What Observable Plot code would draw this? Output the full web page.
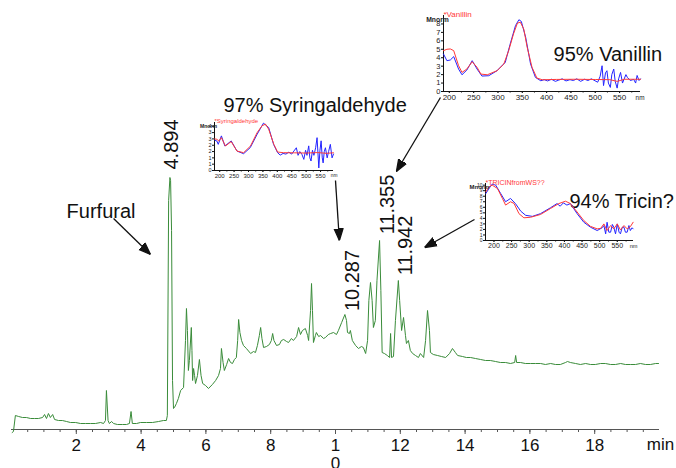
<!DOCTYPE html>
<html><head><meta charset="utf-8">
<script src="https://cdn.jsdelivr.net/npm/d3@7"></script>
<script src="https://cdn.jsdelivr.net/npm/@observablehq/plot@0.6"></script>
<style>
body{margin:0;background:#fff;}
#chart{position:relative;width:676px;height:468px;overflow:hidden;font-family:"Liberation Sans",Arial,sans-serif;}
#chart svg{position:absolute;overflow:visible;}
</style></head><body><div id="chart"></div>
<script>
// ---- main chromatogram (time in min, signal in arbitrary units) ----
const timeMin = [0.02,0.06,0.12,0.22,0.34,0.46,0.59,0.71,0.83,0.96,1.02,1.08,1.14,1.20,1.27,1.33,1.45,1.57,1.70,1.82,1.98,2.13,2.28,2.44,2.59,2.75,2.84,2.90,2.93,2.98,3.02,3.09,3.15,3.27,3.43,3.55,3.64,3.69,3.73,3.86,3.98,4.17,4.35,4.54,4.69,4.78,4.81,4.85,4.89,4.91,4.94,4.97,5.00,5.03,5.09,5.15,5.22,5.31,5.37,5.40,5.43,5.46,5.49,5.55,5.57,5.59,5.62,5.65,5.68,5.74,5.80,5.85,5.90,5.99,6.08,6.20,6.30,6.39,6.45,6.48,6.53,6.57,6.64,6.70,6.76,6.82,6.88,6.94,6.98,7.01,7.05,7.10,7.16,7.25,7.38,7.47,7.53,7.59,7.65,7.69,7.73,7.78,7.87,7.96,8.02,8.06,8.10,8.18,8.27,8.33,8.40,8.49,8.55,8.64,8.70,8.80,8.86,8.92,8.98,9.07,9.14,9.17,9.23,9.26,9.29,9.32,9.38,9.41,9.48,9.54,9.63,9.69,9.78,9.85,9.94,10.03,10.09,10.19,10.29,10.34,10.37,10.43,10.46,10.52,10.62,10.71,10.80,10.86,10.93,10.99,11.03,11.08,11.13,11.17,11.23,11.28,11.36,11.40,11.44,11.51,11.60,11.67,11.70,11.73,11.79,11.85,11.94,11.98,12.04,12.10,12.16,12.19,12.25,12.31,12.38,12.47,12.56,12.62,12.72,12.78,12.84,12.90,12.93,13.02,13.15,13.27,13.40,13.52,13.61,13.70,13.77,13.92,14.04,14.17,14.32,14.48,14.63,14.78,14.94,15.09,15.25,15.40,15.53,15.56,15.59,15.71,15.86,16.02,16.17,16.33,16.48,16.64,16.79,16.94,17.10,17.16,17.25,17.41,17.56,17.72,17.87,18.02,18.18,18.33,18.49,18.64,18.80,18.95,19.10,19.26,19.41,19.57,19.72,19.88,19.97];
const signal = [-3,-2,14,13,12,12,11,11,11,12,15,11,16,12,15,10,9,9,8,7,7,6,6,6,6,7,6,9,39,9,6,8,6,5,5,5,6,18,6,6,7,7,7,8,9,9,14,229,252,249,199,49,21,22,26,31,39,42,89,121,99,59,69,102,79,49,61,54,46,54,70,54,46,44,41,45,49,54,61,81,67,59,65,71,67,66,70,72,89,110,97,89,84,81,76,78,77,84,94,102,91,82,83,85,89,96,89,84,85,89,90,88,87,91,89,93,102,95,99,101,94,89,119,146,119,87,94,97,93,94,91,92,95,96,97,95,99,107,115,109,97,96,99,89,84,81,83,82,76,89,129,147,129,102,109,149,189,139,77,76,74,72,96,72,73,109,149,129,99,112,94,86,89,79,76,74,72,76,72,89,119,99,77,75,74,73,72,76,81,77,74,73,72,72,71,70,69,69,68,67,67,66,67,74,67,67,66,66,66,66,65,66,65,65,67,68,67,66,65,66,65,65,66,66,65,65,66,65,65,65,66,65,65,66,66];
const majorTicks = [2,4,6,8,10,12,14,16,18];

// annotations (positions in data units of the main chart)
const annoText = ["Furfural","97% Syringaldehyde","95% Vanillin","94% Tricin?"];
const annoX = [1.70, 6.54, 16.73, 17.22];
const annoY = [218, 323.5, 374.5, 227.5];
const peakLabels = ["4.894","10.287","11.355","11.942"];
const peakLabelX = [4.94, 10.52, 11.60, 12.16];
const peakLabelY = [285, 149, 225, 184];
const arrowX1 = [3.15, 10.00, 13.24, 14.29];
const arrowY1 = [211, 249, 332, 210];
const arrowX2 = [4.29, 10.12, 11.88, 12.75];
const arrowY2 = [175, 189, 258, 182];

// ---- inset spectra (nm, normalised absorbance) ----
const vanRefNm = [188,195,202,209,219,226,236,247,257,265,278,298,312,322,332,340,346,353,360,370,380,391,420,460,500,530,545,560,593];
const vanRef   = [4.84,5.0,5.04,4.84,3.06,2.26,2.66,3.53,2.86,2.06,1.98,2.46,3.25,4.84,6.83,8.1,8.2,7.4,5.24,2.86,1.59,1.39,1.43,1.45,1.42,1.4,1.2,1.45,1.45];
const vanSmpNm = [188,195,202,209,219,226,236,247,257,267,281,298,315,325,336,343,348,357,367,377,388,395,402,410,418,425,432,440,448,455,462,470,478,485,492,497,505,510,514,517,521,524,527,531,534,538,541,545,548,552,556,559,563,566,572,579,583,586,590,593];
const vanSmp   = [4.44,3.65,3.73,4.13,2.66,1.98,2.54,3.65,2.66,1.83,1.87,2.46,3.45,5.6,7.8,8.5,8.3,6.4,3.25,1.67,1.27,1.4,1.25,1.45,1.2,1.35,1.5,1.25,1.4,1.3,1.5,1.2,1.45,1.3,1.5,1.35,1.1,1.8,3.05,0.7,2.2,2.46,1.0,0.48,2.0,2.66,1.2,0.4,1.5,2.26,1.0,1.43,2.0,1.67,1.3,1.43,1.0,1.9,1.3,1.5];

const synRefNm = [183,190,197,206,220,240,260,283,307,330,347,359,370,388,401,422,460,500,540,570,595];
const synRef   = [2.5,2.47,2.34,2.6,1.94,2.29,1.54,1.41,1.94,3.0,3.54,3.67,3.27,2.07,1.46,1.41,1.4,1.38,1.42,1.36,1.4];
const synSmpNm = [183,190,195,206,218,240,260,283,306,330,352,370,387,401,410,420,430,440,450,458,466,472,478,485,492,498,503,509,513,517,522,527,533,538,544,548,552,556,559,563,567,573,578,584,590,595];
const synSmp   = [2.4,2.34,2.07,2.74,1.94,2.34,1.54,1.33,1.81,2.87,3.75,3.4,2.07,1.41,1.22,1.35,1.3,1.45,1.3,1.55,1.8,1.2,1.5,1.3,0.88,1.6,1.2,1.95,1.0,0.75,1.6,1.2,1.8,2.6,0.2,1.6,2.35,1.0,0.6,1.5,1.8,1.0,1.5,2.07,1.0,1.3];

const triRefNm = [177,186,195,210,224,233,247,257,271,285,304,332,360,384,403,417,436,455,474,493,503,512,521,531,540,550,559,569,578,587,595];
const triRef   = [8.8,9.7,10,9.4,7.6,6.4,7.0,6.7,4.85,4.1,4.2,4.7,5.76,6.67,7.1,6.67,5.15,3.6,2.55,2.1,2.2,3.0,1.8,2.7,2.1,3.0,1.9,2.7,2.1,2.5,3.3];
const triSmpNm = [177,186,195,205,219,233,247,261,276,290,309,332,360,379,388,397,407,417,436,455,474,493,507,512,517,521,526,531,536,540,545,550,555,559,564,569,573,578,583,587,592,595];
const triSmp   = [8.5,9.4,10.2,10.0,8.5,7.0,7.6,6.67,5.3,4.55,4.36,4.85,5.9,6.67,6.2,6.8,6.4,6.67,4.85,3.3,2.4,1.8,2.3,2.7,1.2,3.3,1.5,1.5,2.9,2.4,1.2,3.0,1.5,1.2,2.4,2.4,1.5,1.5,2.7,1.8,2.3,2.1];
const nmTicks = [200,250,300,350,400,450,500,550];

const FONT = "Liberation Sans, Arial, sans-serif";
const arrowHead = (color) => {
  const m = d3.create("svg:marker")
    .attr("viewBox", "-12 -6 12 12")
    .attr("markerUnits", "userSpaceOnUse")
    .attr("markerWidth", 12).attr("markerHeight", 12)
    .attr("refX", 0).attr("refY", 0)
    .attr("orient", "auto")
    .attr("fill", "#111");
  m.append("path").attr("d", "M-12,-4.5L0,0L-12,4.5Z");
  return m.node();
};

const container = document.getElementById("chart");

const main = Plot.plot({
  width: 676, height: 468,
  marginLeft: 11, marginRight: 17, marginTop: 0, marginBottom: 39,
  x: {domain: [0, 20]},
  y: {domain: [0, 429], axis: null},
  style: {fontFamily: FONT, background: "transparent", overflow: "visible"},
  marks: [
    Plot.ruleY([0], {stroke: "#555", strokeWidth: 1}),
    Plot.axisX(d3.range(0.5, 20, 0.5), {tickSize: 3, tickFormat: () => "", stroke: "#555"}),
    Plot.axisX(majorTicks, {tickSize: 5, tickPadding: 3, fontSize: 17, lineHeight: 1.08, stroke: "#555", fill: "#111",
      tickFormat: d => d === 10 ? "1\n0" : String(d)}),
    Plot.text(["min"], {x: [20.03], y: [0], dy: 8, lineAnchor: "top", fontSize: 17, fill: "#111"}),
    Plot.line(timeMin, {x: timeMin, y: signal, stroke: "#3a8c3a", strokeWidth: 1}),
    Plot.link(arrowX1, {x1: arrowX1, y1: arrowY1, x2: arrowX2, y2: arrowY2, stroke: "#111", strokeWidth: 1.3, markerEnd: arrowHead}),
    Plot.text(annoText, {x: annoX, y: annoY, text: annoText, textAnchor: "start", fontSize: 20, fill: "#111"}),
    Plot.text(peakLabels, {x: peakLabelX, y: peakLabelY, text: peakLabels, rotate: -90, fontSize: 20, fill: "#111"})
  ]
});
main.style.left = "0px"; main.style.top = "0px";
container.appendChild(main);

function inset(o) {
  const p = Plot.plot({
    width: o.width, height: o.height,
    marginLeft: o.ml, marginRight: o.mr, marginTop: o.mt, marginBottom: o.mb,
    x: {domain: o.xDomain},
    y: {domain: o.yDomain},
    style: {fontFamily: FONT, background: "transparent", overflow: "visible"},
    marks: [
      Plot.axisX(o.minorX, {tickSize: 1.5, tickFormat: () => "", stroke: "#111"}),
      Plot.axisX(nmTicks, {tickSize: 2, tickPadding: 1, fontSize: o.fs, fill: "#222", stroke: "#111"}),
      Plot.axisY(o.yTicks, {tickSize: 2, tickPadding: 1, fontSize: o.yfs, fill: "#222", stroke: "#111"}),
      Plot.ruleX([o.xDomain[0]], {stroke: "#111"}),
      Plot.ruleY([0], {stroke: "#111"}),
      Plot.line(o.smpNm, {x: o.smpNm, y: o.smp, stroke: "#2424ff", strokeWidth: 1}),
      Plot.line(o.refNm, {x: o.refNm, y: o.ref, stroke: "#ff3838", strokeWidth: 1}),
      Plot.text(["nm"], {frameAnchor: "bottom-right", textAnchor: "end", lineAnchor: "top", dx: 4, dy: 3.5, fontSize: o.fs * 0.8, fill: "#222"}),
      Plot.text(["Mnorm"], {frameAnchor: "top-left", textAnchor: "middle", lineAnchor: "middle", dx: -6, dy: 4, fontSize: o.fs * 0.85, fontWeight: "bold", fill: "#222"}),
      Plot.text([o.title], {frameAnchor: "top-left", textAnchor: "start", lineAnchor: "middle", dx: 0, dy: -1, fontSize: o.fs, fill: "#ff3838"})
    ]
  });
  p.style.left = o.left + "px"; p.style.top = o.top + "px";
  container.appendChild(p);
}

inset({left: 419, top: 0, width: 241, height: 105, ml: 24, mr: 20, mt: 15, mb: 14,
  xDomain: [188, 593], yDomain: [0, 9], yTicks: d3.range(0, 9, 1), minorX: d3.range(200, 590, 25),
  fs: 8, yfs: 7.5, title: "*Vanillin", refNm: vanRefNm, ref: vanRef, smpNm: vanSmpNm, smp: vanSmp});

inset({left: 194, top: 108, width: 157, height: 76, ml: 20, mr: 18, mt: 14, mb: 14,
  xDomain: [182, 595], yDomain: [0, 3.8], yTicks: d3.range(0, 3.6, 0.5), minorX: d3.range(200, 590, 25),
  fs: 6, yfs: 5.5, title: "*Syringaldehyde", refNm: synRefNm, ref: synRef, smpNm: synSmpNm, smp: synSmp});

inset({left: 465, top: 169, width: 186, height: 85, ml: 20, mr: 18, mt: 14, mb: 14,
  xDomain: [176, 596], yDomain: [0, 10.3], yTicks: d3.range(0, 10.1, 1), minorX: d3.range(200, 590, 25),
  fs: 7, yfs: 5, title: "*TRICINfromWS??", refNm: triRefNm, ref: triRef, smpNm: triSmpNm, smp: triSmp});
</script>
</body></html>
